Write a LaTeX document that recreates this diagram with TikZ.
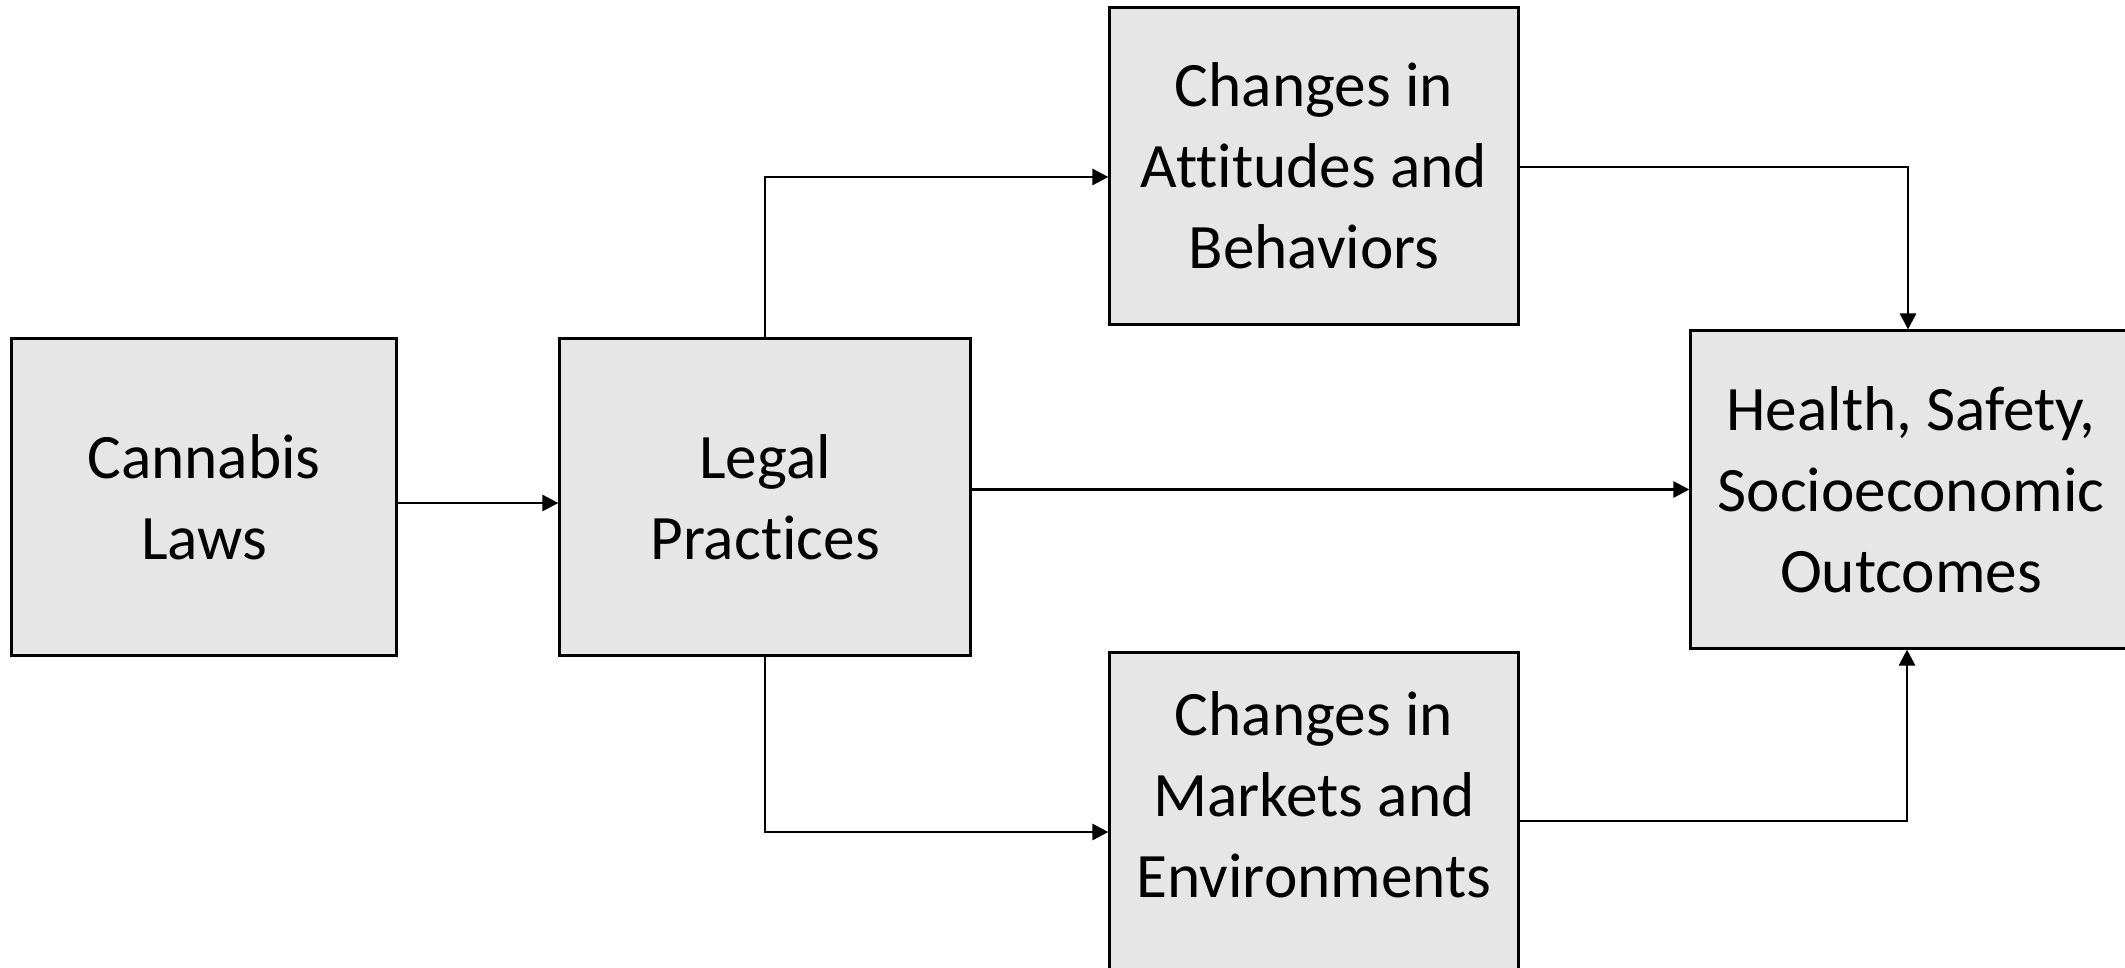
\documentclass[tikz,border=0pt]{standalone}
\usepackage{fontspec}
\setmainfont[Ligatures={NoCommon}]{Carlito}
\usetikzlibrary{arrows.meta}
\definecolor{boxgray}{HTML}{E6E6E6}
\tikzset{
  box/.style={draw=black, line width=0.85pt, fill=boxgray, inner sep=0pt, align=center,
    font=\fontsize{18}{23}\selectfont},
  lbl/.style={inner sep=0pt, align=center, font=\fontsize{18}{23}\selectfont},
  arr/.style={draw=black, line width=0.75pt, -{Triangle[length=0.16cm,width=0.16cm]}}
}
\begin{document}
\begin{tikzpicture}[x=0.01cm,y=-0.01cm]
\useasboundingbox (0,0) rectangle (2125,967);
\clip (0,0) rectangle (2125,967);
\node[box, minimum width=3.84cm, minimum height=3.16cm] (cannabis) at (204,497) {Cannabis\\Laws};
\node[box, minimum width=4.10cm, minimum height=3.16cm] (legal) at (765,497) {Legal\\Practices};
\node[box, minimum width=4.08cm, minimum height=3.16cm] (att) at (1314,166) {Changes in\\Attitudes and\\Behaviors};
\node[box, minimum width=4.08cm, minimum height=3.16cm] (markets) at (1314,811) {};
\node[lbl] (marketstext) at (1314,795) {Changes in\\Markets and\\Environments};
\node[box, minimum width=4.40cm, minimum height=3.17cm] (health) at (1911,489.5) {Health, Safety,\\Socioeconomic\\Outcomes};
\draw[arr] ([yshift=-0.06cm]cannabis.east) -- ([yshift=-0.06cm]legal.west);
\draw[arr] (legal.north) |- ([yshift=-0.11cm]att.west);
\draw[arr] (legal.east |- health.west) -- (health.west);
\draw[arr] (legal.south) |- ([yshift=-0.21cm]markets.west);
\draw[arr] ([yshift=-0.01cm]att.east) -| ([xshift=-0.03cm]health.north);
\draw[arr] ([yshift=-0.10cm]markets.east) -| ([xshift=-0.04cm]health.south);
\end{tikzpicture}
\end{document}
